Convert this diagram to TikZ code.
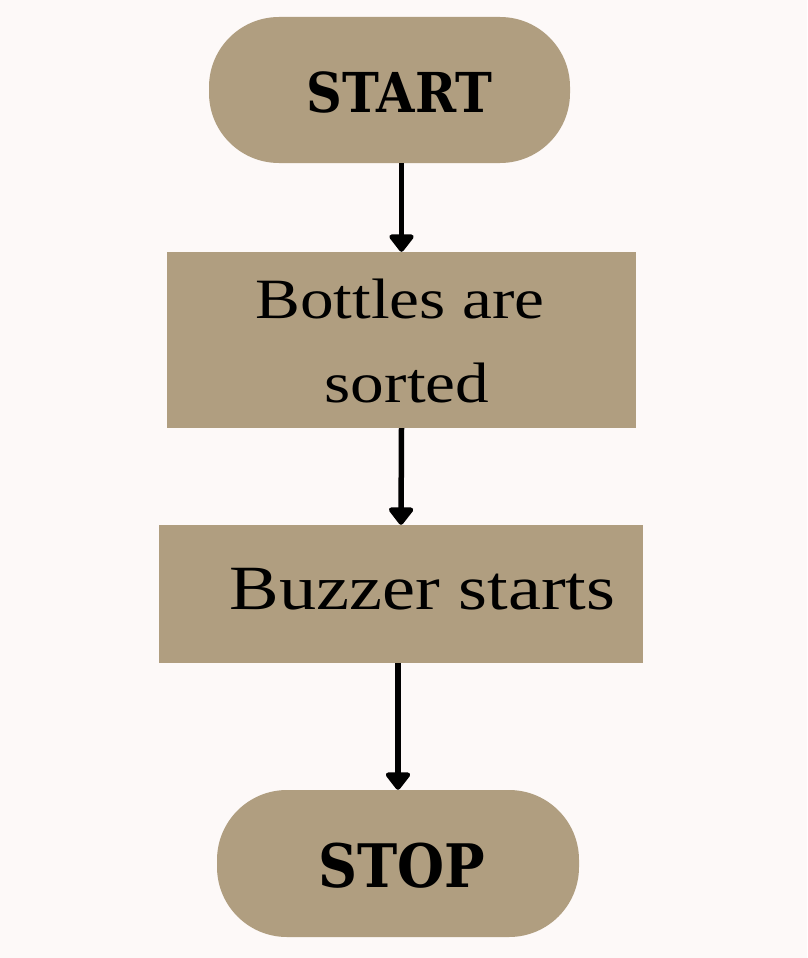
\documentclass[tikz,border=0pt]{standalone}
\usepackage{fontspec}
\usetikzlibrary{arrows.meta}
\newfontfamily\bodyfont[FakeStretch=1.18]{Liberation Serif}
\newfontfamily\headfont[FakeStretch=0.9]{DejaVu Serif}
\definecolor{bgcol}{RGB}{253,249,248}
\definecolor{tan}{RGB}{176,158,128}
\tikzset{
  capsule/.style={fill=tan, rounded corners=70pt, minimum width=361pt, minimum height=146pt, inner sep=0pt},
  stepbox/.style={fill=tan, inner sep=0pt},
  headtext/.style={anchor=base, inner sep=0pt, font=\headfont\bfseries\fontsize{55}{55}\selectfont},
  bodytext/.style={anchor=base, inner sep=0pt, font=\bodyfont\fontsize{57}{57}\selectfont},
  flow/.style={line width=5.5pt, -{Triangle[width=28pt,length=19pt,round]}}
}
\begin{document}
\begin{tikzpicture}[x=1pt,y=-1pt]
\fill[bgcol] (0,0) rectangle (807,958);
\useasboundingbox (0,0) rectangle (807,958);
% shapes
\node[capsule] (start) at (389.5,90) {};
\node[stepbox, minimum width=469pt, minimum height=176pt] (box1) at (401.5,340) {};
\node[stepbox, minimum width=484pt, minimum height=138pt] (box2) at (401,594) {};
\node[capsule, minimum width=362pt, minimum height=147pt] (stop) at (398,863.5) {};
% texts
\node[headtext] (startlbl) at (399.5,112) {START};
\node[headtext, font=\headfont\bfseries\fontsize{60}{60}\selectfont] (stoplbl) at (402,887) {STOP};
\node[bodytext] (box1a) at (400,318) {Bottles are};
\node[bodytext] (box1b) at (407,402) {sorted};
\node[bodytext, font=\bodyfont\fontsize{63}{63}\selectfont] (box2lbl) at (422.5,609) {Buzzer starts};
% connectors
\draw[flow] (box1.north |- start.south) -- (box1.north);
\draw[flow] (box1.south) -- (box2.north);
\draw[flow] (stop.north |- box2.south) -- (stop.north);
\end{tikzpicture}
\end{document}
